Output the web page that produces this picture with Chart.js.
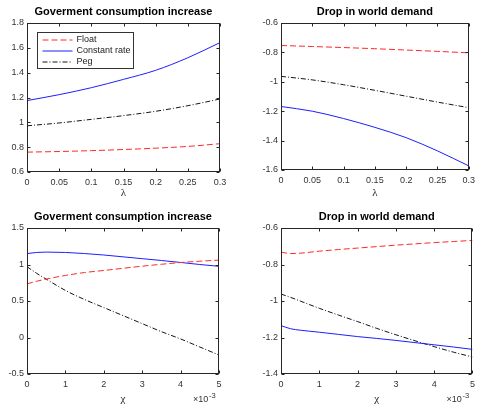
<!DOCTYPE html>
<html lang="en">
<head>
  <meta charset="utf-8">
  <title>Exchange rate regimes</title>
  <script src="https://cdn.jsdelivr.net/npm/chart.js@4.4.1/dist/chart.umd.min.js"></script>
  <style>
    body { margin: 0; background: #fff; }
    #wrap { position: relative; width: 480px; height: 405px; }
    .cell { position: absolute; width: 240px; height: 200px; }
  </style>
</head>
<body>
  <div id="wrap">
    <div class="cell" style="left:0;top:0"><canvas id="c1" width="240" height="200"></canvas></div>
    <div class="cell" style="left:240px;top:0"><canvas id="c2" width="240" height="200"></canvas></div>
    <div class="cell" style="left:0;top:205px"><canvas id="c3" width="240" height="200"></canvas></div>
    <div class="cell" style="left:240px;top:205px"><canvas id="c4" width="240" height="200"></canvas></div>
  </div>

  <script>
    // x values
    var lambda = [0, 0.05, 0.1, 0.15, 0.2, 0.25, 0.3];
    var chi = [0, 0.25, 0.5, 1, 1.5, 2, 2.5, 3, 3.5, 4, 4.5, 5]; // x 10^-3

    // tick labels
    var lambdaTicks = [0, 0.05, 0.1, 0.15, 0.2, 0.25, 0.3];
    var chiTicks = [0, 1, 2, 3, 4, 5];
    var yTicks1 = [0.6, 0.8, 1, 1.2, 1.4, 1.6, 1.8];
    var yTicks2 = [-1.6, -1.4, -1.2, -1, -0.8, -0.6];
    var yTicks3 = [-0.5, 0, 0.5, 1, 1.5];
    var yTicks4 = [-1.4, -1.2, -1, -0.8, -0.6];

    var seriesNames = ['Float', 'Constant rate', 'Peg'];

    // govt consumption increase vs lambda
    var govLamFloat = [0.76, 0.765, 0.772, 0.781, 0.792, 0.806, 0.828];
    var govLamConst = [1.175, 1.223, 1.279, 1.346, 1.419, 1.52, 1.642];
    var govLamPeg = [0.972, 0.995, 1.024, 1.054, 1.089, 1.134, 1.188];

    // drop in world demand vs lambda
    var wdLamFloat = [-0.753, -0.76, -0.767, -0.775, -0.784, -0.793, -0.803];
    var wdLamConst = [-1.168, -1.2, -1.25, -1.31, -1.38, -1.47, -1.572];
    var wdLamPeg = [-0.963, -0.987, -1.02, -1.058, -1.098, -1.138, -1.176];

    // govt consumption increase vs chi
    var govChiFloat = [0.735, 0.77, 0.8, 0.85, 0.89, 0.918, 0.948, 0.977, 1.003, 1.027, 1.045, 1.06];
    var govChiConst = [1.15, 1.165, 1.17, 1.165, 1.15, 1.13, 1.105, 1.08, 1.055, 1.028, 1.0, 0.975];
    var govChiPeg = [0.97, 0.88, 0.8, 0.645, 0.52, 0.41, 0.3, 0.19, 0.08, -0.02, -0.13, -0.24];

    // drop in world demand vs chi
    var wdChiFloat = [-0.732, -0.74, -0.738, -0.727, -0.718, -0.71, -0.702, -0.694, -0.687, -0.68, -0.674, -0.668];
    var wdChiConst = [-1.135, -1.152, -1.16, -1.171, -1.183, -1.195, -1.205, -1.216, -1.228, -1.24, -1.252, -1.265];
    var wdChiPeg = [-0.962, -0.98, -1.0, -1.04, -1.077, -1.113, -1.15, -1.185, -1.218, -1.25, -1.28, -1.307];

    var styles = [
      { borderColor: 'rgb(255,40,40)', borderDash: [6, 3] },
      { borderColor: 'rgb(30,30,255)', borderDash: [] },
      { borderColor: 'rgb(20,20,20)', borderDash: [5, 2, 1, 2] }
    ];

    function pts(xs, ys) {
      var out = [];
      for (var i = 0; i < xs.length; i++) out.push({ x: xs[i], y: ys[i] });
      return out;
    }

    function fmt(v) { return String(Math.round(v * 1000) / 1000); }

    // box around the axes, inward ticks, legend, exponent label
    var framePlugin = {
      id: 'frame',
      afterDraw: function (chart, args, opts) {
        var ctx = chart.ctx;
        var a = chart.chartArea;
        var l = Math.round(a.left) + 0.5, r = Math.round(a.right) - 0.5;
        var t = Math.round(a.top) + 0.5, b = Math.round(a.bottom) - 0.5;
        ctx.save();
        ctx.strokeStyle = '#262626';
        ctx.lineWidth = 1;
        ctx.setLineDash([]);
        ctx.strokeRect(l, t, r - l, b - t);
        ctx.beginPath();
        chart.scales.x.ticks.forEach(function (tk) {
          var px = Math.round(chart.scales.x.getPixelForValue(tk.value)) + 0.5;
          ctx.moveTo(px, b); ctx.lineTo(px, b - 3);
          ctx.moveTo(px, t); ctx.lineTo(px, t + 3);
        });
        chart.scales.y.ticks.forEach(function (tk) {
          var py = Math.round(chart.scales.y.getPixelForValue(tk.value)) + 0.5;
          ctx.moveTo(l, py); ctx.lineTo(l + 3, py);
          ctx.moveTo(r, py); ctx.lineTo(r - 3, py);
        });
        ctx.stroke();

        if (opts.exponent) {
          ctx.fillStyle = '#333';
          ctx.textBaseline = 'middle';
          ctx.font = '9px "Liberation Sans", Arial, sans-serif';
          ctx.fillText('\u00d710', a.right - 26, a.bottom + 26);
          ctx.font = '7.5px "Liberation Sans", Arial, sans-serif';
          ctx.fillText('-3', a.right - 10, a.bottom + 22);
        }

        if (opts.legend) {
          var bx = Math.round(a.left) + 10.5, by = Math.round(a.top) + 9.5;
          var bw = 96, bh = 36;
          ctx.fillStyle = '#fff';
          ctx.fillRect(bx, by, bw, bh);
          ctx.strokeStyle = '#333';
          ctx.strokeRect(bx, by, bw, bh);
          ctx.font = '9px "Liberation Sans", Arial, sans-serif';
          ctx.textBaseline = 'middle';
          chart.data.datasets.forEach(function (ds, i) {
            var yy = by + 7.5 + i * 11;
            ctx.strokeStyle = ds.borderColor;
            ctx.setLineDash(ds.borderDash);
            ctx.beginPath();
            ctx.moveTo(bx + 5, yy);
            ctx.lineTo(bx + 35, yy);
            ctx.stroke();
            ctx.setLineDash([]);
            ctx.fillStyle = '#222';
            ctx.fillText(ds.label, bx + 39, yy);
          });
        }
        ctx.restore();
      }
    };

    function makeChart(id, cfg) {
      var datasets = cfg.series.map(function (ys, i) {
        return {
          label: seriesNames[i],
          data: pts(cfg.xs, ys),
          borderColor: styles[i].borderColor,
          borderDash: styles[i].borderDash,
          borderWidth: 1,
          pointRadius: 0,
          fill: false,
          tension: 0.4,
          cubicInterpolationMode: 'monotone'
        };
      });
      var tickFont = { family: '"Liberation Sans", Arial, sans-serif', size: 9 };
      return new Chart(document.getElementById(id), {
        type: 'line',
        data: { datasets: datasets },
        options: {
          responsive: false,
          animation: false,
          layout: { padding: { left: 0, right: cfg.padRight, top: 0, bottom: 0 } },
          plugins: {
            legend: { display: false },
            tooltip: { enabled: false },
            title: {
              display: true,
              text: cfg.title,
              fullSize: false,
              color: '#000',
              font: { family: '"Liberation Sans", Arial, sans-serif', size: 11, weight: 'bold', lineHeight: 1.2 },
              padding: { top: 5.5, bottom: 4.3 }
            },
            frame: { legend: !!cfg.legend, exponent: !!cfg.exponent }
          },
          scales: {
            x: {
              type: 'linear',
              min: cfg.xTicks[0],
              max: cfg.xTicks[cfg.xTicks.length - 1],
              afterBuildTicks: function (s) { s.ticks = cfg.xTicks.map(function (v) { return { value: v }; }); },
              afterFit: function (s) { s.height = cfg.xHeight; },
              grid: { display: false, drawTicks: false },
              border: { display: false },
              ticks: { font: tickFont, color: '#333', padding: 5, maxRotation: 0, callback: fmt },
              title: {
                display: true,
                text: cfg.xLabel,
                color: '#222',
                font: { family: '"Liberation Serif", "Times New Roman", serif', size: 11, lineHeight: 1 },
                padding: { top: 0, bottom: cfg.xTitlePad }
              }
            },
            y: {
              type: 'linear',
              min: cfg.yTicks[0],
              max: cfg.yTicks[cfg.yTicks.length - 1],
              afterBuildTicks: function (s) { s.ticks = cfg.yTicks.map(function (v) { return { value: v }; }); },
              afterFit: function (s) { s.width = cfg.yWidth; },
              grid: { display: false, drawTicks: false },
              border: { display: false },
              ticks: { font: tickFont, color: '#333', padding: 3, callback: fmt }
            }
          }
        },
        plugins: [framePlugin]
      });
    }

    makeChart('c1', {
      title: 'Goverment consumption increase', xs: lambda, xTicks: lambdaTicks, yTicks: yTicks1,
      series: [govLamFloat, govLamConst, govLamPeg], xLabel: '\u03bb',
      yWidth: 27, padRight: 20, xHeight: 28, xTitlePad: 1.5, legend: true
    });
    makeChart('c2', {
      title: 'Drop in world demand', xs: lambda, xTicks: lambdaTicks, yTicks: yTicks2,
      series: [wdLamFloat, wdLamConst, wdLamPeg], xLabel: '\u03bb',
      yWidth: 41, padRight: 7, xHeight: 30, xTitlePad: 1.5
    });
    makeChart('c3', {
      title: 'Goverment consumption increase', xs: chi, xTicks: chiTicks, yTicks: yTicks3,
      series: [govChiFloat, govChiConst, govChiPeg], xLabel: '\u03c7',
      yWidth: 27, padRight: 21, xHeight: 31, xTitlePad: 0, exponent: true
    });
    makeChart('c4', {
      title: 'Drop in world demand', xs: chi, xTicks: chiTicks, yTicks: yTicks4,
      series: [wdChiFloat, wdChiConst, wdChiPeg], xLabel: '\u03c7',
      yWidth: 41, padRight: 7, xHeight: 31, xTitlePad: 0, exponent: true
    });
  </script>
</body>
</html>
